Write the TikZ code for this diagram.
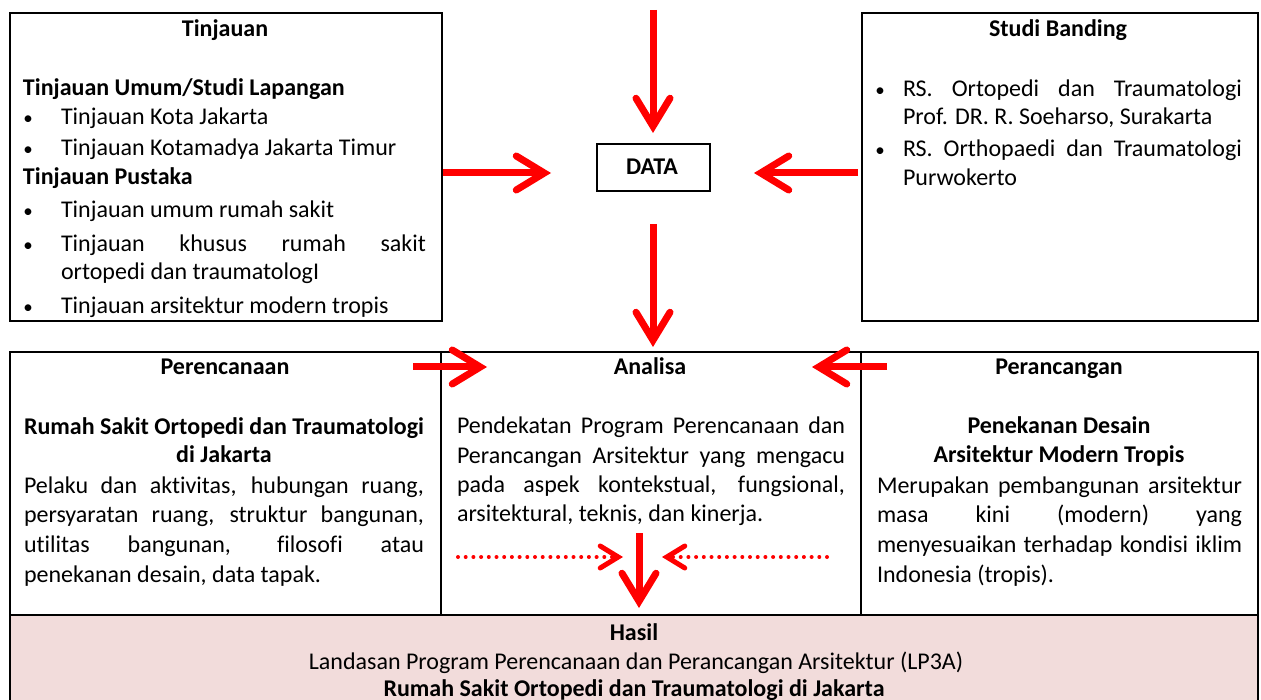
\documentclass[tikz,border=0pt]{standalone}
\usepackage{fontspec}
\setmainfont{Carlito}[Ligatures=NoCommon]
\usetikzlibrary{arrows.meta}
\definecolor{hasilpink}{HTML}{F2DCDB}
\definecolor{arrowred}{HTML}{FF0000}
\newcommand{\jl}[2]{\makebox[#1pt][s]{#2}}
\begin{document}
\begin{tikzpicture}[x=1pt,y=-1pt,
  boxline/.style={draw=black,line width=2pt},
  tl/.style={anchor=base west,inner sep=0pt,outer sep=0pt,font=\fontsize{24}{30}\selectfont},
  tc/.style={anchor=base,inner sep=0pt,outer sep=0pt,font=\fontsize{24}{30}\selectfont},
  tb/.style={anchor=base,inner sep=0pt,outer sep=0pt,font=\fontsize{24}{30}\selectfont\bfseries},
  tbl/.style={anchor=base west,inner sep=0pt,outer sep=0pt,font=\fontsize{24}{30}\selectfont\bfseries},
  bul/.style={anchor=base,inner sep=0pt,outer sep=0pt,font=\fontsize{19}{24}\selectfont},
  bigarrow/.style={draw=arrowred,line width=7pt,
    -{Straight Barb[length=28pt,width=34pt,line width'=7pt,line cap=round,line join=miter]}},
  dotarrow/.style={draw=arrowred,line width=4pt,line cap=round,dash pattern=on 0pt off 7.7pt,
    -{Straight Barb[length=18pt,width=22pt,line width'=5pt,line cap=round,line join=miter]}}
]
\useasboundingbox (0,0) rectangle (1261,700);
\fill[white] (0,0) rectangle (1261,700);

% ---------- boxes ----------
\node[boxline,minimum width=432pt,minimum height=308pt,anchor=north west,inner sep=0pt] (tinj) at (9,12) {};
\node[boxline,minimum width=396pt,minimum height=308pt,anchor=north west,inner sep=0pt] (studi) at (861,12) {};
\node[boxline,minimum width=113pt,minimum height=47pt,anchor=north west,inner sep=0pt] (data) at (596,143) {};
\node[tb] (datat) at (652,175) {DATA};

\fill[hasilpink] (9,615) rectangle (1257,705);
\node[boxline,minimum width=1248pt,minimum height=354pt,anchor=north west,inner sep=0pt] (lower) at (9,351) {};
\draw[boxline] (9,615) -- (1257,615);
\draw[boxline] (441,351) -- (441,615);
\draw[boxline] (861,351) -- (861,615);

% ---------- Tinjauan ----------
\node[tb] (t0) at (225,37) {Tinjauan};
\node[tbl] (t1) at (23,96) {Tinjauan Umum/Studi Lapangan};
\node[bul] (b1) at (28,125) {•};
\node[tl] (t2) at (61,125) {Tinjauan Kota Jakarta};
\node[bul] (b2) at (28,156) {•};
\node[tl] (t3) at (61,156) {Tinjauan Kotamadya Jakarta Timur};
\node[tbl] (t4) at (23,185) {Tinjauan Pustaka};
\node[bul] (b3) at (28,218) {•};
\node[tl] (t5) at (61,218) {Tinjauan umum rumah sakit};
\node[bul] (b4) at (28,252) {•};
\node[tl] (t6) at (61,252) {\jl{365}{Tinjauan khusus rumah sakit}};
\node[tl] (t7) at (61,280) {ortopedi dan traumatologI};
\node[bul] (b5) at (28,314) {•};
\node[tl] (t8) at (61,314) {Tinjauan arsitektur modern tropis};

% ---------- Studi Banding ----------
\node[tb] (s0) at (1058,37) {Studi Banding};
\node[bul] (sb1) at (880,97) {•};
\node[tl] (s1) at (903,97) {\jl{339}{RS. Ortopedi dan Traumatologi}};
\node[tl] (s2) at (903,125) {Prof. DR. R. Soeharso, Surakarta};
\node[bul] (sb2) at (880,157) {•};
\node[tl] (s3) at (903,157) {\jl{339}{RS. Orthopaedi dan Traumatologi}};
\node[tl] (s4) at (903,186) {Purwokerto};

% ---------- Perencanaan ----------
\node[tb] (p0) at (225,375) {Perencanaan};
\node[tbl] (p1) at (24,435) {\jl{400}{Rumah Sakit Ortopedi dan Traumatologi}};
\node[tb] (p2) at (224,462) {di Jakarta};
\node[tl] (p3) at (24,493) {\jl{400}{Pelaku dan aktivitas, hubungan ruang,}};
\node[tl] (p4) at (24,522) {\jl{400}{persyaratan ruang, struktur bangunan,}};
\node[tl] (p5) at (24,552) {\jl{400}{utilitas bangunan, filosofi atau}};
\node[tl] (p6) at (24,582) {penekanan desain, data tapak.};

% ---------- Analisa ----------
\node[tb] (a0) at (650,375) {Analisa};
\node[tl] (a1) at (457,433) {\jl{388}{Pendekatan Program Perencanaan dan}};
\node[tl] (a2) at (457,463) {\jl{388}{Perancangan Arsitektur yang mengacu}};
\node[tl] (a3) at (457,492) {\jl{388}{pada aspek kontekstual, fungsional,}};
\node[tl] (a4) at (457,521) {arsitektural, teknis, dan kinerja.};

% ---------- Perancangan ----------
\node[tb] (r0) at (1059,375) {Perancangan};
\node[tb] (r1) at (1059,433) {Penekanan Desain};
\node[tb] (r2) at (1059,462) {Arsitektur Modern Tropis};
\node[tl] (r3) at (877,493) {\jl{365}{Merupakan pembangunan arsitektur}};
\node[tl] (r4) at (877,522) {\jl{365}{masa kini (modern) yang}};
\node[tl] (r5) at (877,552) {\jl{365}{menyesuaikan terhadap kondisi iklim}};
\node[tl] (r6) at (877,582) {Indonesia (tropis).};

% ---------- Hasil ----------
\node[tb] (h0) at (634,640) {Hasil};
\node[tc] (h1) at (636,669) {Landasan Program Perencanaan dan Perancangan Arsitektur (LP3A)};
\node[tb] (h2) at (634,696) {Rumah Sakit Ortopedi dan Traumatologi di Jakarta};

% ---------- arrows ----------
\coordinate (topS) at (653,10);
\coordinate (topE) at (653,133);
\coordinate (lS) at (443,173);
\coordinate (lE) at (551,173);
\coordinate (rS) at (858,173);
\coordinate (rE) at (754,173);
\coordinate (dS) at (653,224);
\coordinate (dE) at (653,347);
\coordinate (mlS) at (413,367);
\coordinate (mlE) at (487,367);
\coordinate (mrS) at (887,367);
\coordinate (mrE) at (812,367);
\coordinate (dlS) at (458,557);
\coordinate (dlE) at (623,557);
\coordinate (drS) at (827,557);
\coordinate (drE) at (662,557);
\coordinate (hS) at (639,533);
\coordinate (hE) at (639,608);

\draw[bigarrow] (topS) -- (topE);
\draw[bigarrow] (lS) -- (lE);
\draw[bigarrow] (rS) -- (rE);
\draw[bigarrow] (dS) -- (dE);
\draw[bigarrow] (mlS) -- (mlE);
\draw[bigarrow] (mrS) -- (mrE);
\draw[bigarrow] (hS) -- (hE);
\draw[dotarrow] (dlS) -- (dlE);
\draw[dotarrow] (drS) -- (drE);
\end{tikzpicture}
\end{document}
